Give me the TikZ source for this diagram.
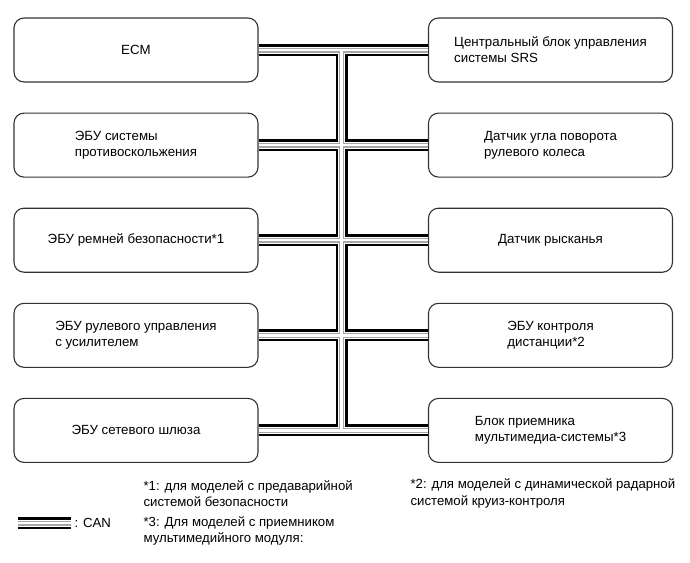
\documentclass[tikz,border=0pt]{standalone}
\usepackage{fontspec}
\setmainfont{Liberation Sans}
\usetikzlibrary{positioning}

\begin{document}
\begin{tikzpicture}[
    x=1pt, y=-1pt,
    font=\fontsize{13.3}{16}\selectfont,
    unit/.style={
      draw=black!80, line width=1.1pt,
      rounded corners=10pt,
      minimum width=244pt, minimum height=64pt,
      align=left
    },
    note/.style={anchor=west, align=left, font=\fontsize{13.2}{16.5}\selectfont},
    node distance=30pt
  ]
  \useasboundingbox (0,0) rectangle (690,562);

% --- Left column of control units ---
    \node[unit] at (136,50) (ecm) {ECM};
    \node[unit, below=of ecm] (abs) {ЭБУ системы\\противоскольжения};
    \node[unit, below=of abs] (belt) {ЭБУ ремней безопасности*1};
    \node[unit, below=of belt] (eps) {ЭБУ рулевого управления\\с усилителем};
    \node[unit, below=of eps] (gw) {ЭБУ сетевого шлюза};

% --- Right column of control units ---
    \node[unit] at (550.5,50) (srs) {Центральный блок управления\\системы SRS};
    \node[unit, below=of srs] (steer) {Датчик угла поворота\\рулевого колеса};
    \node[unit, below=of steer] (yaw) {Датчик рысканья};
    \node[unit, below=of yaw] (acc) {ЭБУ контроля\\дистанции*2};
    \node[unit, below=of acc] (media) {Блок приемника\\мультимедиа-системы*3};

% --- CAN bus (black, white, grey, white layers) ---
    \coordinate (bus) at (341.5,50);
    \coordinate (keyA) at (18,523);
    \coordinate (keyB) at (71,523);
    \newcommand\canpath{
      (ecm.east) -- (srs.west)
      (abs.east) -- (steer.west)
      (belt.east) -- (yaw.west)
      (eps.east) -- (acc.west)
      (gw.east) -- (media.west)
      (bus) -- (bus |- gw.east)
      (keyA) -- (keyB)}
    \foreach \w/\col in {12/black, 7/white, 5/black!35, 2.4/white}
      \draw[line width=\w pt, \col] \canpath;

% --- Legend and footnotes ---
    \node[note] at (71,523) (can) {: CAN};
    \node[note] at (140,493.5) (fn1) {*1: для моделей с предаварийной\\системой безопасности};
    \node[note] at (140,531) (fn3) {*3: Для моделей с приемником\\мультимедийного модуля:};
    \node[note] at (407,493.5) (fn2) {*2: для моделей с динамической радарной\\системой круиз-контроля};

\end{tikzpicture}
\end{document}
